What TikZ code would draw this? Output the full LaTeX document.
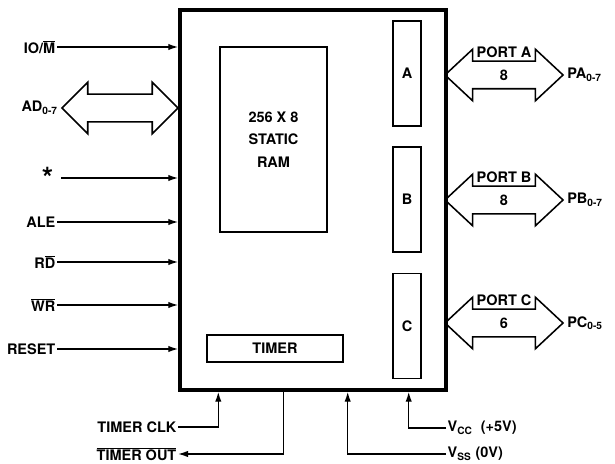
\documentclass[tikz,border=0pt]{standalone}
\usepackage{fontspec}
\setmainfont{TeX Gyre Heros}
\usetikzlibrary{positioning, shapes.arrows, arrows.meta}
\newcommand{\ovl}[1]{$\overline{\mbox{#1}}$}
\tikzset{
	every node/.append style={
		font={\bfseries\fontsize{10.3}{12}\selectfont},
	},
	block/.append style={
		draw,
		line width=1.2pt,
		inner sep=0pt,
	},
	sig/.append style={
		inner sep=1pt,
	},
	wire/.append style={
		line width=1pt,
	},
	inwire/.append style={
		wire,
		-{Latex[length=2.5mm, width=1.6mm]}
	},
	bus/.append style={
		double arrow,
		draw,
		line width=1.1pt,
		inner xsep=0pt,
		inner ysep=0.325cm,
		double arrow head extend=0.3cm,
		double arrow tip angle=86,
		minimum width=1.25cm,
		minimum height=2.95cm
	}
}

\begin{document}
\begin{tikzpicture}[x=0.025cm, y=-0.025cm]
	\useasboundingbox (0,0) rectangle (615,464);

	\node(chip)[draw, line width=2.4pt, minimum width=6.65cm, minimum height=9.5cm] at (313,200) {};

	\node(ram)[block, minimum width=2.675cm, minimum height=4.625cm, align=center,
		font={\bfseries\fontsize{10.3}{16}\selectfont}] at (273.5,139.5) {256 X 8\\STATIC\\RAM};
	\node(porta)[block, minimum width=0.7cm, minimum height=2.625cm] at (407,73.5) {A};
	\node(portb)[block, minimum width=0.7cm, minimum height=2.625cm, below=0.475cm of porta] {B};
	\node(portc)[block, minimum width=0.7cm, minimum height=2.625cm, below=0.5cm of portb] {C};
	\node(timer)[block, minimum width=3.4cm, minimum height=0.675cm] at (275,348.5) {TIMER};

	% control inputs
	\node(iom)[sig, anchor=east] at (57,47) {IO/\ovl{M}};
	\node(star)[sig, anchor=east] at (55,178) {\raisebox{-1.1ex}{\huge *}};
	\node(ale)[sig, anchor=east] at (57,222) {ALE};
	\node(rd)[sig, anchor=east] at (57,262) {R\ovl{D}};
	\node(wr)[sig, anchor=east] at (57,305) {\ovl{WR}};
	\node(reset)[sig, anchor=east] at (57,349) {RESET};
	\foreach \s in {iom, ale, rd, wr, reset}
		\draw[inwire] (\s.east) -- (\s.east -| chip.west);
	\draw[inwire] ([xshift=0.15cm]star.east) -- (star.east -| chip.west);

	% address/data bus
	\node(adbus)[bus, minimum height=2.9cm, double arrow tip angle=90] at (120,108) {};
	\node(ad)[sig, left=1pt of adbus] {AD\textsubscript{0-7}};

	% ports
	\node(busa)[bus] at (504,75) {};
	\node(busb)[bus] at (504,200) {};
	\node(busc)[bus] at (504,323) {};
	\node(widtha) at (busa) {8};
	\node(widthb) at (busb) {8};
	\node(widthc) at (busc) {6};
	\node(lbla) at ([yshift=0.58cm]busa.center) {PORT A};
	\node(lblb) at ([yshift=0.58cm]busb.center) {PORT B};
	\node(lblc) at ([yshift=0.58cm]busc.center) {PORT C};
	\node(pa)[sig, right=1pt of busa] {PA\textsubscript{0-7}};
	\node(pb)[sig, right=1pt of busb] {PB\textsubscript{0-7}};
	\node(pc)[sig, right=1pt of busc] {PC\textsubscript{0-5}};

	% timer and supply pins
	\node(tclk)[sig, anchor=east] at (178,427) {TIMER CLK};
	\node(tout)[sig, anchor=east] at (178,454) {\ovl{TIMER OUT}};
	\node(vcc)[sig, anchor=west] at (446,428) {V\textsubscript{CC}\ \ (+5V)};
	\node(vss)[sig, anchor=west] at (446,454) {V\textsubscript{SS} (0V)};
	\draw[inwire] (tclk.east) -| ([xshift=1cm]chip.south west);
	\draw[inwire] ([xshift=2.625cm]chip.south west) |- (tout.east);
	\draw[inwire] (vcc.west) -| ([xshift=-0.975cm]chip.south east);
	\draw[inwire] (vss.west) -| ([xshift=-2.5cm]chip.south east);
\end{tikzpicture}
\end{document}
